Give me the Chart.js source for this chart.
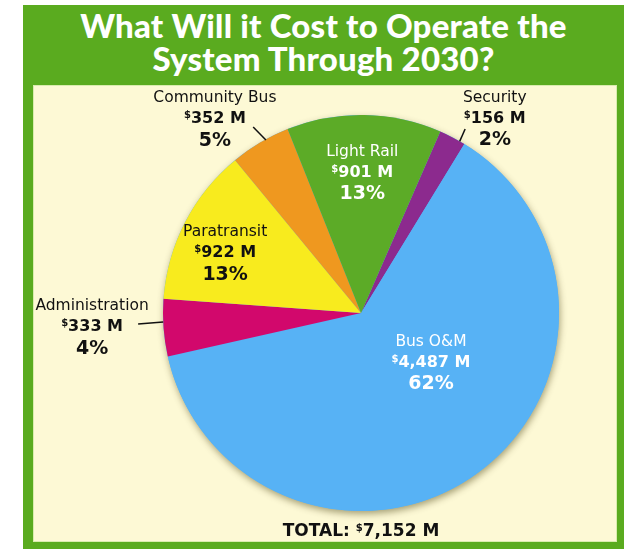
<!DOCTYPE html>
<html>
<head>
<meta charset="utf-8">
<script src="https://cdn.jsdelivr.net/npm/chart.js@4/dist/chart.umd.min.js"></script>
<style>
  html, body { margin:0; padding:0; background:#ffffff; }
  #wrap { position:relative; width:632px; height:549px; overflow:hidden; }
  #frame { position:absolute; left:23px; top:5px; width:601px; height:544px; background:#5aab1f; }
  #inner { position:absolute; left:33px; top:85px; width:584px; height:457px; background:#fdf9d5; box-shadow: inset 0 0 0 1px #d9ecae; }
  #title { position:absolute; left:23px; top:9px; width:601px; text-align:center; color:#ffffff;
           font-family:"Lato","Open Sans",sans-serif; font-weight:900; font-size:33px; line-height:33px; letter-spacing:0.2px; }
  canvas { position:absolute; left:0; top:0; }
</style>
</head>
<body>
<div id="wrap">
  <div id="frame"></div>
  <div id="inner"></div>
  <div id="title">What Will it Cost to Operate the<br>System Through 2030?</div>
  <canvas id="c" width="632" height="549"></canvas>
</div>
<script>
// ---- data ----
const categories = ['Security', 'Bus O&M', 'Administration', 'Paratransit', 'Community Bus', 'Light Rail'];
const costs = [156, 4487, 333, 922, 352, 901];           // $ millions
const percentLabels = ['2%', '62%', '4%', '13%', '5%', '13%'];
const totalLabel = '7,152';

// ---- styles / layout (not data) ----
const sliceColors = ['#8c2a8e', '#57b2f5', '#d2086c', '#f8eb1e', '#ef981f', '#5cab27'];
const textColors  = ['#111111', '#ffffff', '#111111', '#111111', '#111111', '#ffffff'];
// label centre in polar coords: angle (deg, clockwise from top) and radius factor
const labelPos = [
  {a: 34.6,  r: 1.19},
  {a: 125.5, r: 0.434},
  {a: 267,   r: 1.36},
  {a: 293.8, r: 0.75},
  {a: 323,   r: 1.226},
  {a: 0.5,   r: 0.707}
];
const leaders = [
  {a1: 29.5, r1: 1.068, a2: 29.9, r2: 1.0},
  null,
  {a1: 267.2, r1: 1.127, a2: 267.4, r2: 1.0},
  null,
  {a1: 329.9, r1: 1.086, a2: 331.2, r2: 0.997},
  null
];
const FONT = '"DejaVu Sans","Verdana",sans-serif';

function drawRich(ctx, parts, cx, cy, size, weight, color) {
  let total = 0;
  const widths = parts.map(p => {
    ctx.font = weight + ' ' + (p.sup ? Math.round(size * 0.6) : size) + 'px ' + FONT;
    const w = ctx.measureText(p.t).width;
    total += w;
    return w;
  });
  let x = cx - total / 2;
  ctx.fillStyle = color;
  ctx.textBaseline = 'middle';
  ctx.textAlign = 'left';
  parts.forEach((p, i) => {
    ctx.font = weight + ' ' + (p.sup ? Math.round(size * 0.6) : size) + 'px ' + FONT;
    ctx.fillText(p.t, x, p.sup ? cy - size * 0.22 : cy);
    x += widths[i];
  });
}

const shadowPlugin = {
  id: 'pieShadow',
  beforeDatasetsDraw(chart) {
    const arc = chart.getDatasetMeta(0).data[0];
    const ctx = chart.ctx;
    ctx.save();
    ctx.shadowColor = 'rgba(60,50,0,0.45)';
    ctx.shadowBlur = 7;
    ctx.shadowOffsetX = 1;
    ctx.shadowOffsetY = 3;
    ctx.fillStyle = '#57b2f5';
    ctx.beginPath();
    ctx.arc(arc.x, arc.y, arc.outerRadius, 0, Math.PI * 2);
    ctx.fill();
    ctx.restore();
  }
};

const labelPlugin = {
  id: 'sliceLabels',
  afterDatasetsDraw(chart) {
    const meta = chart.getDatasetMeta(0);
    const arc0 = meta.data[0];
    const cx = arc0.x, cy = arc0.y, R = arc0.outerRadius;
    const ctx = chart.ctx;
    const pt = (a, r) => {
      const rad = a * Math.PI / 180;
      return [cx + Math.sin(rad) * r * R, cy - Math.cos(rad) * r * R];
    };
    ctx.save();
    categories.forEach((name, i) => {
      const lp = labelPos[i];
      const [x, y] = pt(lp.a, lp.r);
      const col = textColors[i];
      drawRich(ctx, [{t: name}], x, y - 21, 15.5, 'normal', col);
      drawRich(ctx, [{t: '$', sup: true}, {t: costs[i].toLocaleString('en-US') + ' M'}], x, y, 16, 'bold', col);
      drawRich(ctx, [{t: percentLabels[i]}], x, y + 21.5, 19, 'bold', col);
      const ld = leaders[i];
      if (ld) {
        const [x1, y1] = pt(ld.a1, ld.r1);
        const [x2, y2] = pt(ld.a2, ld.r2);
        ctx.strokeStyle = '#111111';
        ctx.lineWidth = 1.5;
        ctx.beginPath();
        ctx.moveTo(x1, y1);
        ctx.lineTo(x2, y2);
        ctx.stroke();
      }
    });
    drawRich(ctx, [{t: 'TOTAL: '}, {t: '$', sup: true}, {t: totalLabel + ' M'}], cx, cy + R + 21, 17, 'bold', '#111111');
    ctx.restore();
  }
};

new Chart(document.getElementById('c'), {
  type: 'pie',
  data: {
    labels: categories,
    datasets: [{
      data: costs,
      backgroundColor: sliceColors,
      borderWidth: 0,
      hoverOffset: 0,
      offset: 0
    }]
  },
  options: {
    responsive: false,
    animation: false,
    rotation: 23.6,
    layout: { padding: { left: 163, right: 73, top: 115, bottom: 38 } },
    plugins: { legend: { display: false }, tooltip: { enabled: false } },
    events: []
  },
  plugins: [shadowPlugin, labelPlugin]
});
</script>
</body>
</html>
